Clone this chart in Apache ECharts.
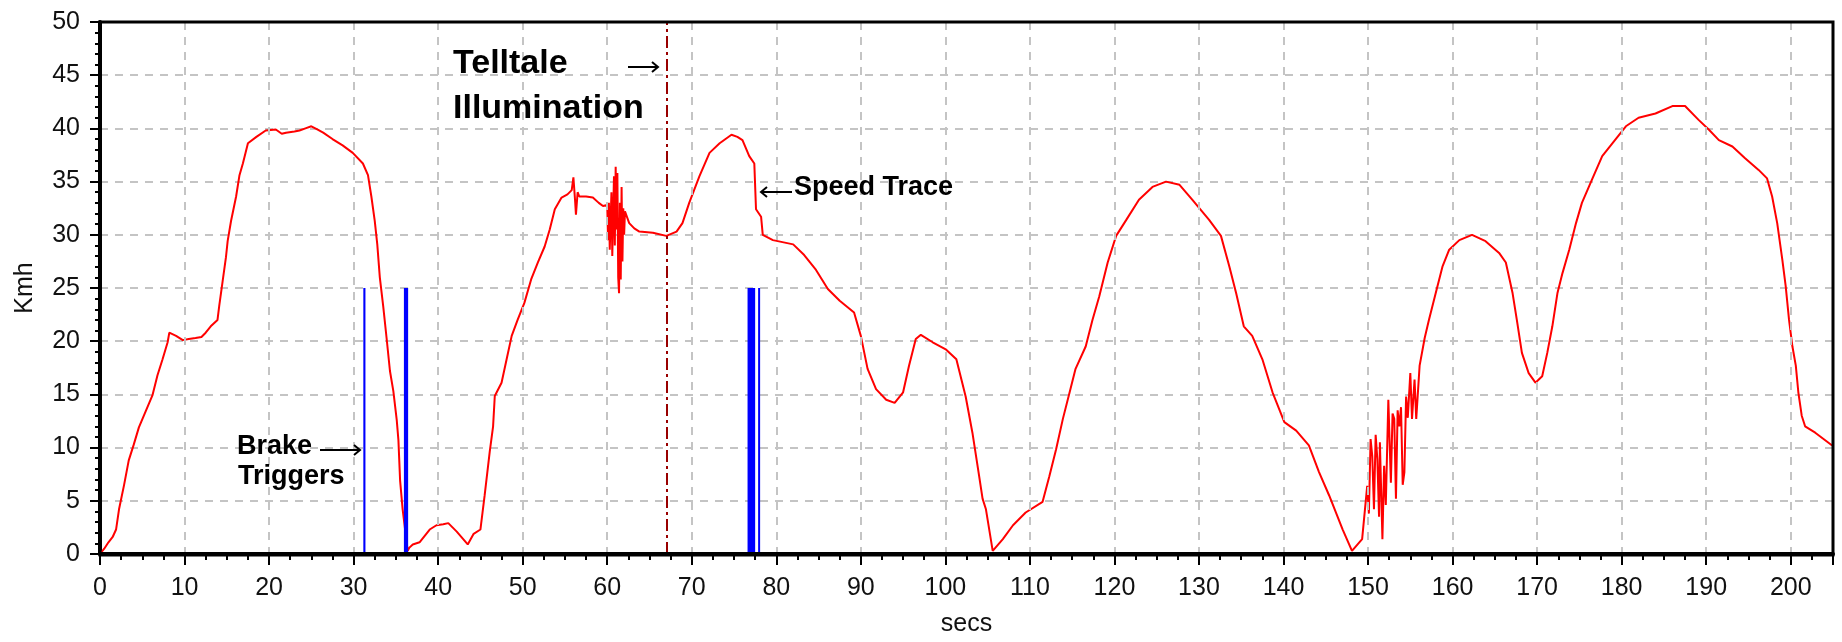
<!DOCTYPE html>
<html><head><meta charset="utf-8">
<script src="https://cdn.jsdelivr.net/npm/echarts@6/dist/echarts.min.js"></script>
<style>html,body{margin:0;padding:0;background:#fff}#c{width:1842px;height:642px}</style>
</head><body><div id="c"></div>
<script>
// Speed trace (time in secs, speed in Kmh)
const secs = [0,0.5,1.0,1.5,1.9,2.25,2.85,3.4,4.0,4.6,5.4,6.2,6.8,7.4,8.0,8.2,9.0,9.8,10.5,11.3,12.0,12.5,13.1,13.9,14.1,14.5,14.9,15.1,15.5,16.1,16.5,16.9,17.5,18.5,19.6,20.8,21.5,22.0,23.0,23.6,24.3,25.0,25.7,26.4,27.5,28.7,29.9,31.1,31.7,32.1,32.5,32.8,33.1,33.5,33.9,34.3,34.7,35.1,35.3,35.5,35.8,36.4,36.6,37.0,37.8,39.0,39.8,40.6,41.2,42.2,43.5,44.2,45.0,45.5,46.1,46.5,46.7,47.5,48.1,48.7,49.4,50.2,51.0,51.8,52.6,53.2,53.8,54.6,55.3,55.8,56.0,56.2,56.3,56.5,56.7,57.5,58.3,59.0,59.5,60.0,60.1,60.2,60.3,60.5,60.6,60.8,60.9,61.0,61.1,61.2,61.3,61.4,61.5,61.6,61.7,61.8,61.9,62.0,62.1,62.6,63.2,63.8,65.4,67.0,68.2,68.9,69.7,70.9,72.1,73.3,74.7,75.4,76.0,76.8,77.4,77.6,78.2,78.4,79.6,82.0,83.3,84.7,86.1,87.5,89.2,90.0,90.8,91.8,93.0,94.0,95.0,95.7,96.5,97.1,98.5,100.1,101.3,102.4,103.2,104.0,104.4,104.8,105.6,106.8,108.0,109.5,111.5,112.3,113.1,113.9,114.7,115.4,116.6,117.4,118.2,119.2,120.2,121.4,122.9,124.5,126.1,127.7,129.2,131.2,132.6,133.6,134.4,135.3,136.3,137.5,138.7,140.1,141.5,143.0,144.2,145.4,147.0,148.1,149.3,149.9,150.1,150.3,150.5,150.7,150.9,151.1,151.3,151.4,151.7,151.9,152.1,152.4,152.7,152.9,153.1,153.3,153.5,153.7,153.9,154.1,154.3,154.5,154.7,155.0,155.2,155.5,155.7,156.1,156.7,157.2,158.0,158.8,159.6,160.8,162.3,163.9,165.5,166.3,167.1,167.6,168.2,169.0,169.8,170.6,171.2,171.8,172.4,173.0,173.8,174.6,175.3,176.5,177.7,178.9,180.5,182.0,184.0,186.0,187.5,189.1,190.3,191.5,193.1,194.6,196.2,197.2,197.8,198.4,199.0,199.4,199.8,200.2,200.6,200.9,201.3,201.7,202.9,204.9];
const kmh = [0,0.5,1.1,1.6,2.3,4.2,6.5,8.8,10.3,11.9,13.4,14.9,16.8,18.3,19.9,20.8,20.5,20.1,20.2,20.3,20.4,20.8,21.4,22.0,23.3,25.6,27.9,29.4,31.3,33.6,35.6,36.7,38.6,39.2,39.8,39.9,39.5,39.6,39.7,39.8,40.0,40.2,39.9,39.6,39.0,38.4,37.7,36.7,35.6,33.6,31.3,29.1,26.0,23.3,20.3,17.2,15.3,12.6,10.7,6.9,4.2,0.3,0.6,0.9,1.1,2.3,2.7,2.8,2.9,2.1,0.9,1.9,2.3,5.5,9.6,12.0,14.85,16.1,18.3,20.5,22.0,23.6,25.8,27.4,28.9,30.5,32.4,33.5,33.8,34.2,35.4,33.2,31.9,34.0,33.6,33.6,33.5,33.0,32.7,32.8,29.5,33.0,28.6,34.0,28.0,35.5,29.0,36.4,30.5,35.8,26.0,24.5,33.0,25.8,34.5,27.5,32.5,30.0,32.2,31.1,30.6,30.3,30.2,29.9,30.3,31.1,33.0,35.5,37.7,38.6,39.4,39.2,38.9,37.4,36.7,32.4,31.7,30.0,29.5,29.1,28.1,26.7,24.9,23.8,22.7,20.5,17.4,15.5,14.5,14.2,15.2,17.7,20.2,20.6,19.9,19.2,18.3,14.8,11.4,7.3,5.2,4.2,0.3,1.4,2.7,3.9,4.9,7.3,9.85,12.7,15.2,17.4,19.5,22.0,24.2,27.4,29.9,31.4,33.3,34.5,35.0,34.7,33.3,31.4,29.9,27.0,24.5,21.4,20.5,18.3,15.2,12.4,11.6,10.2,7.7,5.5,2.3,0.3,1.4,6.4,3.8,10.8,9.2,4.2,11.2,8.9,3.5,10.5,1.4,8.3,4.6,14.5,6.7,13.2,12.7,5.2,13.5,12.0,13.8,6.5,7.7,14.8,12.8,17.0,12.7,16.4,12.7,17.7,20.3,22.0,24.5,27.0,28.6,29.5,30.0,29.4,28.3,27.4,24.5,22.0,18.9,17.0,16.1,16.7,18.9,21.4,24.5,26.4,28.6,31.1,33.0,35.2,37.4,38.6,40.2,41.0,41.4,42.1,42.1,40.8,39.9,38.9,38.3,37.2,36.1,35.3,33.6,31.1,27.7,25.2,22.0,19.5,17.7,15.2,13.0,12.0,11.4,10.2];
// Brake trigger pulses (secs) and their level (Kmh scale)
const brakeStart = [31.15, 35.95, 76.6, 77.85];
const brakeEnd   = [31.4, 36.45, 77.5, 78.0];
const brakeLevel = [25, 25, 25, 25];
// Telltale illumination time (secs)
const telltaleAt = 67.1;

const speedData = secs.map((t, i) => [t, kmh[i]]);
const brakeData = brakeStart.map((s, i) => [s, brakeEnd[i], brakeLevel[i]]);

const chart = echarts.init(document.getElementById('c'), null, {renderer: 'canvas'});
const FONT = '"Liberation Sans", Arial, sans-serif';
const gridDash = {color: '#c4c4c4', width: 2, type: [8, 7]};
const G = {left: 100, right: 9, top: 22, bottom: 87};

function arrow(x1, x2, y) {
  const dir = x2 > x1 ? -1 : 1;
  return [
    {type: 'line', shape: {x1: x1, y1: y, x2: x2, y2: y}, style: {stroke: '#000', lineWidth: 2}, z: 100},
    {type: 'polyline', shape: {points: [[x2 + dir * 6, y - 5], [x2, y], [x2 + dir * 6, y + 5]]}, style: {stroke: '#000', lineWidth: 2, fill: null}, z: 100}
  ];
}
function label(text, x, y, size) {
  return {type: 'text', x: x, y: y, z: 100,
    style: {text: text, fill: '#000', font: 'bold ' + size + 'px ' + FONT, verticalAlign: 'middle', align: 'left'}};
}

chart.setOption({
  backgroundColor: '#ffffff',
  animation: false,
  grid: Object.assign({show: false}, G),
  xAxis: {
    type: 'value', min: 0, max: 205, interval: 10, position: 'bottom', z: 5,
    name: 'secs', nameLocation: 'middle', nameGap: 58,
    nameTextStyle: {fontFamily: FONT, fontSize: 25, color: '#111'},
    axisLine: {show: true, onZero: false, lineStyle: {color: '#000', width: 4}},
    axisTick: {show: true, length: 11, lineStyle: {color: '#000', width: 2}},
    minorTick: {show: true, splitNumber: 4, length: 6, lineStyle: {color: '#000', width: 2}},
    axisLabel: {fontFamily: FONT, fontSize: 25, color: '#111', margin: 22, showMaxLabel: false,
      formatter: v => (v % 10 === 0 ? String(v) : '')},
    splitLine: {show: true, showMinLine: false, showMaxLine: false, lineStyle: gridDash}
  },
  yAxis: {
    type: 'value', min: 0, max: 50, interval: 5, position: 'left', z: 1,
    name: 'Kmh', nameLocation: 'middle', nameGap: 62, nameRotate: 90,
    nameTextStyle: {fontFamily: FONT, fontSize: 25, color: '#111'},
    axisLine: {show: true, onZero: false, lineStyle: {color: '#000', width: 4}},
    axisTick: {show: true, length: 10, lineStyle: {color: '#000', width: 2}},
    minorTick: {show: true, splitNumber: 5, length: 5, lineStyle: {color: '#000', width: 2}},
    axisLabel: {fontFamily: FONT, fontSize: 25, color: '#111', margin: 20},
    splitLine: {show: true, showMinLine: false, showMaxLine: false, lineStyle: gridDash}
  },
  series: [
    {
      type: 'line', data: speedData, showSymbol: false, symbol: 'none',
      lineStyle: {color: '#ff0000', width: 2}, z: 3,
      markLine: {
        silent: true, symbol: 'none', label: {show: false},
        lineStyle: {color: '#990000', width: 2, type: [12, 4, 3, 4]},
        data: [{xAxis: telltaleAt}]
      }
    },
    {
      type: 'custom', data: brakeData, z: 4,
      encode: {x: [0, 1], y: 2},
      renderItem: function (params, api) {
        const p0 = api.coord([api.value(0), api.value(2)]);
        const p1 = api.coord([api.value(1), 0]);
        const w = Math.max(p1[0] - p0[0], 2);
        return {type: 'rect', shape: {x: p0[0], y: p0[1], width: w, height: p1[1] - p0[1]},
          style: {fill: '#0000ff'}};
      }
    }
  ],
  graphic: [
    {type: 'rect', z: 90, silent: true,
      shape: {x: G.left, y: G.top, width: 1842 - G.left - G.right, height: 642 - G.top - G.bottom},
      style: {fill: 'none', stroke: '#000', lineWidth: 3, lineDash: null}},
    label('Telltale', 453, 64, 34),
    label('Illumination', 453, 109, 34),
    ...arrow(628, 658, 67),
    label('Speed Trace', 794, 188, 27),
    ...arrow(792, 761, 192),
    label('Brake', 237, 447, 27),
    label('Triggers', 238, 477, 27),
    ...arrow(320, 360, 450)
  ]
});
</script>
</body></html>
